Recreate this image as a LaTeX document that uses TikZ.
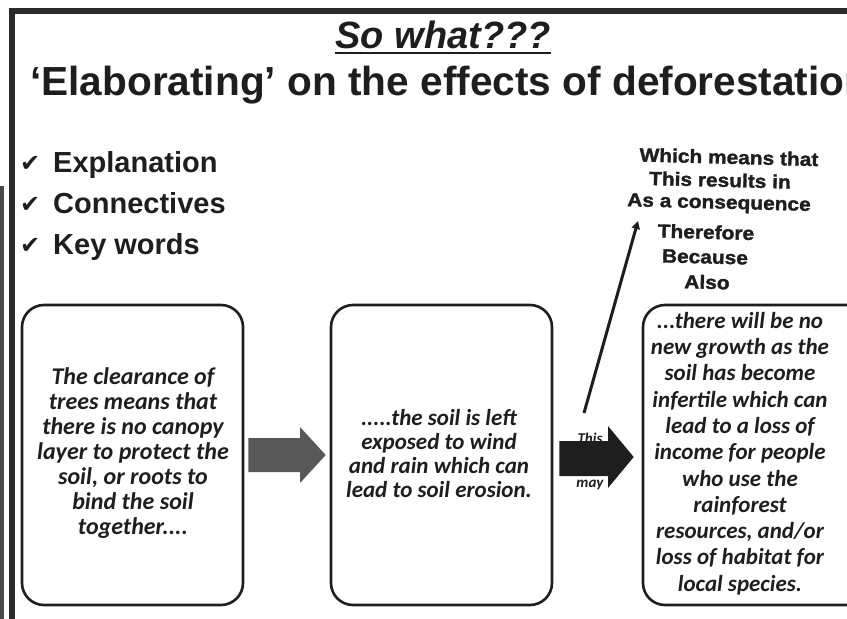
\documentclass[tikz,border=0pt]{standalone}
\usepackage{fontspec}
\setmainfont{Liberation Sans}
\newfontfamily\bodybi{Carlito Bold Italic}
\newfontfamily\symfont{DejaVu Sans}
\newfontfamily\heavyfont{Liberation Sans Bold}[FakeBold=1.6, FakeStretch=1.1]
\usetikzlibrary{arrows.meta}
\definecolor{frame}{HTML}{2A2A2A}
\definecolor{grayarrow}{HTML}{585858}
\definecolor{ink}{HTML}{1E1E1E}
\tikzset{
  box/.style={draw=ink, line width=2.6pt, rounded corners=22pt, fill=white, inner sep=0pt},
  boxtexta/.style={text=ink, align=center, font=\bodybi\fontsize{24}{25}\selectfont},
  boxtext/.style={text=ink, align=center, font=\bodybi\fontsize{23}{24}\selectfont},
  boxtextb/.style={text=ink, align=center, font=\bodybi\fontsize{23}{26.3}\selectfont},
  conn/.style={text=ink, font=\heavyfont\fontsize{19}{21}\selectfont, rotate=-1.5, inner sep=0pt},
  checkitem/.style={text=ink, anchor=base west, font=\bfseries\fontsize{29}{32}\selectfont, inner sep=0pt},
  checkmark/.style={text=ink, anchor=base west, font=\symfont\fontsize{24}{26}\selectfont, inner sep=0pt},
}
\begin{document}
\begin{tikzpicture}[x=1pt, y=-1pt]
\useasboundingbox (0,0) rectangle (847,619);
\clip (0,0) rectangle (847,619);
\fill[white] (0,0) rectangle (847,619);
% frame
\fill[frame] (9,8) rectangle (847,14);
\fill[frame] (9,8) rectangle (15,619);
\fill[frame!85] (0,186) rectangle (4,619);
% titles
\node[text=ink, anchor=base, inner sep=0pt, font=\bfseries\itshape\fontsize{38}{40}\selectfont] (so) at (443,48) {So what???};
\draw[ink, line width=2.6pt] ([yshift=-5pt]so.base west) -- ([yshift=-5pt]so.base east);
\node[text=ink, anchor=base west, inner sep=0pt, font=\bfseries\fontsize{40.6}{44}\selectfont] (title) at (30,95) {‘Elaborating’ on the effects of deforestation};
% checklist
\node[checkmark] (c1) at (20,171) {✔};
\node[checkitem] (t1) at (53,172) {Explanation};
\node[checkmark] (c2) at (20,212) {✔};
\node[checkitem] (t2) at (53,213) {Connectives};
\node[checkmark] (c3) at (20,253) {✔};
\node[checkitem] (t3) at (53,254) {Key words};
% boxes
\node[box, minimum width=221pt, minimum height=300pt] (b1) at (132.5,455) {};
\node[box, minimum width=221pt, minimum height=300pt] (b2) at (441.5,455) {};
\node[box, minimum width=227pt, minimum height=300pt] (b3) at (756.5,455) {};
\node[boxtexta] (tx1) at (133,453) {The clearance of\\trees means that\\there is no canopy\\layer to protect the\\soil, or roots to\\bind the soil\\together....};
\node[boxtext] (tx2) at (439,454) {.....the soil is left\\exposed to wind\\and rain which can\\lead to soil erosion.};
\node[boxtextb] (tx3) at (740,453.5) {...there will be no\\new growth as the\\soil has become\\infertile which can\\lead to a loss of\\income for people\\who use the\\rainforest\\resources, and/or\\loss of habitat for\\local species.};
% hidden small text under the black arrow
\node[text=ink, align=center, font=\bodybi\fontsize{15}{44}\selectfont, inner sep=0pt] (hid) at (590,461) {This\\may};
% block arrows
\fill[grayarrow] ([xshift=4pt]b1.east |- 0,438) -- (300,438) -- (300,427) -- ([xshift=-4pt]b2.west |- 0,455) -- (300,483) -- (300,472) -- ([xshift=4pt]b1.east |- 0,472) -- cycle;
\fill[ink] ([xshift=6pt]b2.east |- 0,441) -- (608,441) -- (608,426) -- ([xshift=-8pt]b3.west |- 0,457) -- (608,488) -- (608,476) -- ([xshift=6pt]b2.east |- 0,476) -- cycle;
% connectives
\node[conn] (w1) at (729,157) {Which means that};
\node[conn] (w2) at (720,180) {This results in};
\node[conn] (w3) at (719,204) {As a consequence};
\node[conn] (w4) at (706,232) {Therefore};
\node[conn] (w5) at (705,257) {Because};
\node[conn] (w6) at (707,282) {Also};
\coordinate (lnA) at (584,413);
\coordinate (lnB) at (638,221);
\draw[ink, line width=3pt, -{Triangle[length=8pt, width=8pt]}] (lnA) -- (lnB);
\end{tikzpicture}
\end{document}
